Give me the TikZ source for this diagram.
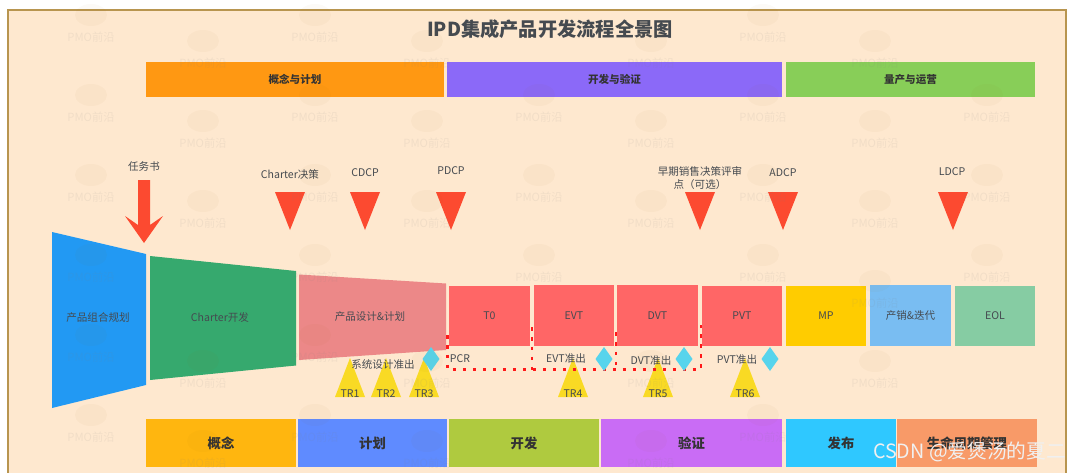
\documentclass[tikz,border=0pt]{standalone}
\usepackage{fontspec}
\setmainfont{Noto Sans CJK SC}
\definecolor{panelfill}{HTML}{FEE8CF}
\definecolor{panelline}{HTML}{B8954F}
\definecolor{inktext}{HTML}{454A50}
\definecolor{redmark}{HTML}{FC4A30}
\definecolor{yellowmark}{HTML}{F9DA24}
\definecolor{diamondmark}{HTML}{57D4EC}
\definecolor{buildred}{HTML}{FF6666}
\newcommand{\decisionmark}[1]{\fill[redmark] (#1-15,192) -- (#1+15,192) -- (#1,230) -- cycle;}
\newcommand{\reviewmark}[2]{\fill[yellowmark] (#1-15,397) -- (#1+15,397) -- (#1,358) -- cycle;
        \node[tag] (tr#2) at (#1,394) {TR#2};}
\newcommand{\exitmark}[1]{\fill[diamondmark] (#1-8.5,359) -- (#1,347) -- (#1+8.5,359) -- (#1,371) -- cycle;}
\newcommand{\pmomark}[2]{\fill[red!60!green,opacity=0.03] (#1,#2-22) ellipse (16 and 11);
        \node[text=gray,opacity=0.1,font=\fontsize{8}{9}\selectfont] at (#1,#2) {PMO前沿};}
\begin{document}
\begin{tikzpicture}
                [x=0.025cm,y=-0.025cm,
                tag/.style={text=inktext,font=\fontsize{7.5}{9}\selectfont,inner sep=0pt,align=center},
                box/.style={rectangle,inner sep=0pt,text=inktext,font=\fontsize{7.5}{9}\selectfont,minimum width=2.02cm,minimum height=1.5cm},
                topbar/.style={rectangle,inner sep=0pt,text=black!80,font=\fontsize{7.5}{9}\selectfont\bfseries,minimum height=0.875cm},
                lowbar/.style={rectangle,inner sep=0pt,text=black!80,font=\fontsize{9.5}{11}\selectfont\bfseries,minimum height=1.2cm},
                gate/.style={red!90!white,line width=1.6pt,dash pattern=on 2.5pt off 4.6pt},
                ]
                \useasboundingbox (0,0) rectangle (1080,473);
                \draw[panelline,fill=panelfill,line width=0.8pt] (8,10) rectangle (1066,480);
                \node[text=inktext,font=\fontsize{13.7}{16}\selectfont\bfseries] (title) at (550,29) {IPD集成产品开发流程全景图};
                % top bars
                \node[topbar,fill={rgb,255:red,255;green,152;blue,18},minimum width=7.45cm] (concept) at (295,79.5) {概念与计划};
                \node[topbar,fill={rgb,255:red,139;green,105;blue,248},minimum width=8.375cm] (develop) at (614.5,79.5) {开发与验证};
                \node[topbar,fill={rgb,255:red,136;green,206;blue,88},minimum width=6.225cm] (volume) at (910.5,79.5) {量产与运营};
                % decision points
                \decisionmark{290} \decisionmark{365} \decisionmark{451}
                \decisionmark{700} \decisionmark{783} \decisionmark{953}
                \node[tag] (charter) at (290,174) {Charter决策};
                \node[tag] (cdcp) at (365,173) {CDCP};
                \node[tag] (pdcp) at (451,171) {PDCP};
                \node[tag] (early) at (700,178) {早期销售决策评审\\点（可选）};
                \node[tag] (adcp) at (783,173) {ADCP};
                \node[tag] (ldcp) at (952,172) {LDCP};
                \node[tag] (task) at (144,166) {任务书};
                \fill[redmark] (138,180) -- (150,180) -- (150,225) -- (163,216) -- (144,243) -- (125,216) -- (138,225) -- cycle;
                % review points
                \reviewmark{350}{1} \reviewmark{386}{2} \reviewmark{424}{3}
                \reviewmark{573}{4} \reviewmark{658}{5} \reviewmark{745}{6}
                % funnel
                \fill[fill={rgb,255:red,34;green,153;blue,243}] (52,232) -- (146,254) -- (146,385) -- (52,408) -- cycle;
                \fill[fill={rgb,255:red,54;green,169;blue,110}] (150,256) -- (296,271) -- (296,365.5) -- (150,380) -- cycle;
                \fill[fill={rgb,255:red,236;green,136;blue,136}] (299,274.5) -- (446,283.5) -- (446,350) -- (299,360) -- cycle;
                \node[tag] (portfolio) at (98,318) {产品组合规划};
                \node[tag] (charterdev) at (220,317) {Charter开发};
                \node[tag] (design) at (370,317) {产品设计\&计划};
                % build stages
                \node[box,fill=buildred] (t0) at (489.5,316) {T0};
                \node[box,fill=buildred] (evt) at (574,315.5) {EVT};
                \node[box,fill=buildred] (dvt) at (657.5,315.5) {DVT};
                \node[box,fill=buildred] (pvt) at (742,316) {PVT};
                \node[box,fill={rgb,255:red,255;green,204;blue,0}] (mp) at (826,316) {MP};
                \node[box,fill={rgb,255:red,121;green,189;blue,242}] (iterate) at (910.5,315.5) {产销\&迭代};
                \node[box,fill={rgb,255:red,134;green,204;blue,163}] (eol) at (995,316) {EOL};
                % gates between stages
                \coordinate (gateA) at (447.5,335);
                \coordinate (gateAb) at (447.5,369.5);
                \coordinate (gateB) at (532,327);
                \coordinate (gateBb) at (532,375);
                \coordinate (gateC) at (616,332);
                \coordinate (gateCb) at (616,369.5);
                \coordinate (gateD) at (701,322);
                \coordinate (gateDb) at (701,369.5);
                \draw[gate] (gateA) -- (gateAb) -- (gateDb) -- (gateD);
                \draw[gate] (gateB) -- (gateBb);
                \draw[gate] (gateC) -- (gateCb);
                \exitmark{431} \exitmark{604} \exitmark{684} \exitmark{770}
                \node[tag] (sysexit) at (383,364) {系统设计准出};
                \node[tag] (pcr) at (460,359) {PCR};
                \node[tag] (evtexit) at (566,358) {EVT准出};
                \node[tag] (dvtexit) at (651,360) {DVT准出};
                \node[tag] (pvtexit) at (737,359) {PVT准出};
                % bottom bars
                \node[lowbar,fill={rgb,255:red,255;green,182;blue,15},minimum width=3.75cm] (phaseA) at (221,443) {概念};
                \node[lowbar,fill={rgb,255:red,95;green,139;blue,255},minimum width=3.725cm] (phaseB) at (372.5,443) {计划};
                \node[lowbar,fill={rgb,255:red,175;green,202;blue,63},minimum width=3.75cm] (phaseC) at (524,443) {开发};
                \node[lowbar,fill={rgb,255:red,201;green,108;blue,245},minimum width=4.525cm] (phaseD) at (691.5,443) {验证};
                \node[lowbar,fill={rgb,255:red,47;green,200;blue,255},minimum width=2.75cm] (phaseE) at (841,443) {发布};
                \node[lowbar,fill={rgb,255:red,248;green,154;blue,104},minimum width=3.5cm] (phaseF) at (967,443) {生命周期管理};
                % watermark
                \foreach \x in {91,315}{\foreach \y in {37,117,197,277,357,437}{\pmomark{\x}{\y}}}
                \foreach \y in {37,117,197,277,437}{\pmomark{763}{\y}}
                \foreach \x in {539,987}{\foreach \y in {117,197,277}{\pmomark{\x}{\y}}}
                \foreach \x in {203,427,651}{\foreach \y in {63,143,223,383,463}{\pmomark{\x}{\y}}}
                \foreach \y in {63,143,223,303,383}{\pmomark{875}{\y}}
                \node[text=white!88!gray,font=\fontsize{14}{16}\selectfont] (csdn) at (969.5,452) {CSDN @爱煲汤的夏二};
            \end{tikzpicture}
\end{document}
